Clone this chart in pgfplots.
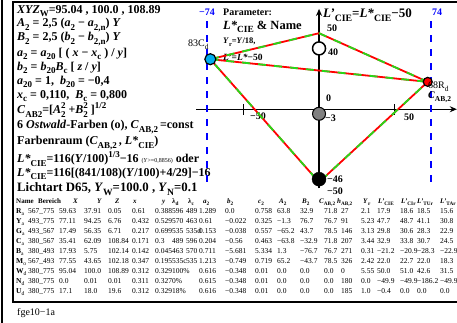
\documentclass[border=0pt]{standalone}
\usepackage{fontspec}
\setmainfont{Liberation Serif}
\usepackage{pgfplots}
\pgfplotsset{compat=1.18}
\usetikzlibrary{arrows.meta}
\newcommand{\s}[1]{\raisebox{-0.28em}{\scalebox{0.75}{#1}}}
\newcommand{\su}[1]{\raisebox{0.42em}{\scalebox{0.75}{#1}}}
\newcommand{\sbsp}[2]{\makebox[0pt][l]{\s{#1}}\su{#2}}
\newcommand\tabfont{\fontsize{7.5}{8}\selectfont}
\newcommand\lt[2]{\node[anchor=west,inner sep=0pt,font=\bfseries\fontsize{12}{14}\selectfont] at (17,#1) {#2};}
\def\colx{{16,28,59,84,108,132,155,172,186,199,225,255,277,300,324,341,361,377,400,417,440}}
\def\hdx{{16,38,73,97,115,133,162,172,188,203,227,258,279,302,319,337,363,378,401,417,440}}
\newcommand\trow[2]{\foreach \v [count=\i from 0] in {#2}{\pgfmathsetmacro\cx{\colx[\i]}\node[anchor=base west,inner sep=0pt,font=\tabfont] at (\cx,#1) {\v};}}
\definecolor{lgreen}{rgb}{0.15,0.85,0.1}
\begin{document}
\begin{tikzpicture}[x=1pt,y=1pt]
\path[use as bounding box] (0,0) rectangle (457,323);
% frames
\draw[line width=2.5pt] (2,-5) -- (2,330);
\draw[line width=2.5pt] (13,21) rectangle (480,321);
% left text block
\lt{312}{\textit{XYZ}\s{W}=95.04 , 100.0 , 108.89}
\lt{298}{\textit{A}\s{2} = 2,5 (\textit{a}\s{2} − \textit{a}\s{2,n}) \textit{Y}}
\lt{284}{\textit{B}\s{2} = 2,5 (\textit{b}\s{2} − \textit{b}\s{2,n}) \textit{Y}}
\lt{269}{\textit{a}\s{2} = \textit{a}\s{20} [ ( \textit{x} − \textit{x}\s{c} ) / \textit{y}]}
\lt{255}{\textit{b}\s{2} = \textit{b}\s{20}\textit{B}\s{c} [ \textit{z} / \textit{y}]}
\lt{241}{\textit{a}\s{20} = 1,\ \ \textit{b}\s{20} = −0,4}
\lt{227}{\textit{x}\s{c} = 0,110,\ \ \textit{B}\s{c} = 0,800}
\lt{213}{\textit{C}\s{AB2}=[\textit{A}\sbsp{2}{2}\hspace{3pt}+\textit{B}\sbsp{2}{2}\hspace{3pt}]\su{1/2}}
\lt{196}{6 \textit{Ostwald}-Farben (o), \textit{C}\s{AB,2}\,=const}
\lt{180}{Farbenraum (\textit{C}\s{AB,2}\,, \textit{L*}\s{CIE})}
\lt{164}{\textit{L*}\s{CIE}=116(\textit{Y}/100)\su{1/3}−16 {\fontsize{6}{7}\selectfont\mdseries(\textit{Y}>=0,8856)} oder}
\lt{149}{\textit{L*}\s{CIE}=116[(841/108)(\textit{Y}/100)+4/29]−16}
\node[anchor=west,inner sep=0pt,font=\bfseries\fontsize{12.8}{14}\selectfont] at (17,134) {Lichtart D65, \textit{Y}\s{W}=100.0 , \textit{Y}\s{N}=0.1};
% table header
\foreach \v [count=\i from 0] in {Name,Bereich,\textit{X},\textit{Y},\textit{Z},\textit{x},\textit{y},λ\s{d},λ\s{c},\textit{a}\s{2},\textit{b}\s{2},\textit{c}\s{2},\textit{A}\s{2},\textit{B}\s{2},\textit{C}\s{AB,2},\textit{h}\s{AB,2},\textit{Y}\s{r},\textit{L'}\s{CIE},\textit{L'}\s{CIr},\textit{L'}\s{TUr},\textit{L'}\s{TAr}}{\pgfmathsetmacro\cx{\hdx[\i]}\node[anchor=base west,inner sep=0pt,font=\bfseries\fontsize{7}{8}\selectfont] at (\cx,119.5) {\v};}
\trow{109.5}{{\textbf{R}\s{a}},567\_775,59.63,37.91,0.05,0.61,0.388,596,489,1.289,0.0,0.758,63.8,32.9,71.8,27,2.1,17.9,18.6,18.5,15.6}
\trow{99.5}{{\textbf{Y}\s{a}},493\_775,77.11,94.25,6.76,0.432,0.529,570,463,0.61,−0.022,0.325,−1.3,76.7,76.7,91,5.23,47.7,48.7,41.1,30.8}
\trow{89.5}{{\textbf{G}\s{a}},493\_567,17.49,56.35,6.71,0.217,0.699,535,535d,0.153,−0.038,0.557,−65.2,43.7,78.5,146,3.13,29.8,30.6,28.3,22.9}
\trow{79.5}{{\textbf{C}\s{a}},380\_567,35.41,62.09,108.84,0.171,0.3,489,596,0.204,−0.56,0.463,−63.8,−32.9,71.8,207,3.44,32.9,33.8,30.7,24.5}
\trow{69.5}{{\textbf{B}\s{a}},380\_493,17.93,5.75,102.14,0.142,0.045,463,570,0.711,−5.681,5.334,1.3,−76.7,76.7,271,0.31,−21.2,−20.9,−28.3,−22.9}
\trow{59.5}{{\textbf{M}\s{o}},567\_493,77.55,43.65,102.18,0.347,0.195,535c,535,1.213,−0.749,0.719,65.2,−43.7,78.5,326,2.42,22.0,22.7,22.0,18.3}
\trow{49.5}{{\textbf{W}\s{d}},380\_775,95.04,100.0,108.89,0.312,0.329,100\%,{},0.616,−0.348,0.01,0.0,0.0,0.0,0,5.55,50.0,51.0,42.6,31.5}
\trow{39.5}{{\textbf{N}\s{d}},380\_775,0.0,0.01,0.01,0.311,0.327,0\%,{},0.615,−0.348,0.01,0.0,0.0,0.0,180,0.0,−49.9,−49.9,−186.2,−49.9}
\trow{29.5}{{\textbf{U}\s{d}},380\_775,17.1,18.0,19.6,0.312,0.329,18\%,{},0.616,−0.348,0.01,0.0,0.0,0.0,185,1.0,−0.4,0.0,0.0,0.0}
\node[anchor=west,inner sep=0pt,font=\fontsize{10}{12}\selectfont] at (17,10) {fge10−1a};
% right texts
\node[anchor=west,inner sep=0pt,text=blue,font=\bfseries\fontsize{10}{12}\selectfont] at (199,311) {−74};
\node[anchor=west,inner sep=0pt,text=blue,font=\bfseries\fontsize{10}{12}\selectfont] at (432,311) {74};
\node[anchor=west,inner sep=0pt,font=\bfseries\fontsize{10}{12}\selectfont] at (223,311) {Parameter:};
\node[anchor=west,inner sep=0pt,font=\bfseries\fontsize{12.5}{14}\selectfont] at (223,296) {\textit{L*}\s{CIE} \& Name};
\node[anchor=west,inner sep=0pt,font=\bfseries\fontsize{8.5}{10}\selectfont] at (223,281) {\textit{Y}\s{r}=\textit{Y}/18,};
\node[anchor=west,inner sep=0pt,font=\bfseries\fontsize{9.5}{11}\selectfont] at (223,266) {\textit{L'}=\textit{L*}−50};
\node[anchor=west,inner sep=0pt,font=\bfseries\fontsize{13}{15}\selectfont] at (323,308) {\textit{L'}\s{CIE}=\textit{L*}\s{CIE}−50};
% axis labels
\begin{scope}[every node/.style={anchor=west,inner sep=0pt,font=\bfseries\fontsize{10}{12}\selectfont}]
\node at (327,295) {50};
\node at (328,270.5) {40};
\node at (326,224.5) {0};
\node at (325,205) {−3};
\node at (327,144) {−46};
\node at (327,132) {−50};
\node at (250,206.5) {−50};
\node at (404,206) {50};
\end{scope}
\begin{axis}[at={(196.4pt,134.7pt)},anchor=south west,scale only axis,
  width=260.4pt,height=179.4pt,xmin=-81,xmax=91,ymin=-52,ymax=66,
  axis lines=middle,axis line style={line width=1.3pt,-{Stealth[length=7pt,width=6pt]}},
  xtick=\empty,ytick=\empty,clip=false]
\addplot[blue,line width=2pt,dash pattern=on 7pt off 7pt] coordinates {(-74,58) (-74,-48)};
\addplot[blue,line width=2pt,dash pattern=on 7pt off 7pt] coordinates {(74,58) (74,-48)};
\draw[line width=1.5pt] (axis cs:-50,-3.5) -- (axis cs:-50,3.5);
\draw[line width=1.5pt] (axis cs:50,-3.5) -- (axis cs:50,3.5);
\addplot[only marks,mark=*,mark size=6.5pt,mark options={fill=white,draw=black,line width=1.5pt}] coordinates {(0,40)};
\addplot[only marks,mark=*,mark size=6.5pt,mark options={fill=gray,draw=black,line width=1pt}] coordinates {(0,-3)};
\addplot[only marks,mark=*,mark size=7pt,mark options={fill=black,draw=black}] coordinates {(0,-46)};
\addplot[red,line width=1.8pt] coordinates {(0,50) (71.8,18) (0,-48) (-71.8,32.9) (0,50)};
\addplot[lgreen,line width=1.8pt,dash pattern=on 8pt off 8pt] coordinates {(0,50) (71.8,18) (0,-48) (-71.8,32.9) (0,50)};
\addplot[red,line width=1.8pt] coordinates {(-71.8,32.9) (71.8,18)};
\addplot[lgreen,line width=1.8pt,dash pattern=on 8pt off 8pt] coordinates {(-71.8,32.9) (71.8,18)};
\addplot[only marks,mark=*,mark size=5.5pt,mark options={fill=cyan,draw=black,line width=1.2pt}] coordinates {(-71.8,32.9)};
\addplot[only marks,mark=*,mark size=4.5pt,mark options={fill=red,draw=black,line width=1.2pt}] coordinates {(71.8,18)};
\end{axis}
% point labels
\node[anchor=west,inner sep=0pt,font=\fontsize{10}{12}\selectfont] at (188,278) {83C\s{d}};
\node[anchor=west,inner sep=0pt,font=\fontsize{10}{12}\selectfont] at (428,236) {68R\s{d}};
\node[anchor=west,inner sep=0pt,font=\bfseries\fontsize{10}{12}\selectfont] at (428,226) {\textit{C}\s{AB,2}};
\end{tikzpicture}
\end{document}
